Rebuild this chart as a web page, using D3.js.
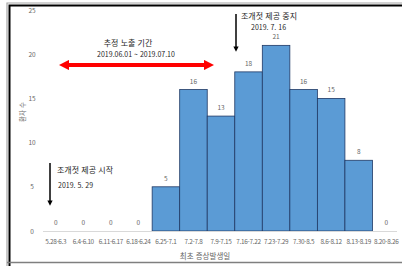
<!DOCTYPE html>
<html lang="ko">
<head>
<meta charset="UTF-8" />
<script src="https://d3js.org/d3.v7.min.js"></script>
<style>
  body { margin: 0; background: #fff; }
  text { font-family: "Noto Sans CJK KR", "Noto Sans", sans-serif; }
  .tick-lbl { fill: #666; font-size: 6.5px; }
  .x-lbl { fill: #666; font-size: 6.4px; letter-spacing: -0.3px; }
  .note { fill: #262626; font-size: 8px; }
</style>
</head>
<body>
<svg width="402" height="266"></svg>
<script>
  // 주별 환자 수
  const weeks = ["5.28-6.3", "6.4-6.10", "6.11-6.17", "6.18-6.24", "6.25-7.1", "7.2-7.8",
    "7.9-7.15", "7.16-7.22", "7.23-7.29", "7.30-8.5", "8.6-8.12", "8.13-8.19", "8.20-8.26"];
  const patients = [0, 0, 0, 0, 5, 16, 13, 18, 21, 16, 15, 8, 0];
  const yTicks = [0, 5, 10, 15, 20, 25];

  const svg = d3.select("svg");

  // 테두리
  svg.append("path").attr("d", "M7,266 V3 H402").attr("fill", "none")
    .attr("stroke", "#a6a6a6").attr("stroke-width", 1.2);
  svg.append("path").attr("d", "M9.5,266 V5.5 H402").attr("fill", "none")
    .attr("stroke", "#000").attr("stroke-width", 2);
  svg.append("line").attr("x1", 7).attr("x2", 402).attr("y1", 262.5).attr("y2", 262.5)
    .attr("stroke", "#7f7f7f").attr("stroke-width", 1.5);

  const x = d3.scaleBand().domain(weeks).range([42, 400]).padding(0);
  const y = d3.scaleLinear().domain([0, 25]).range([231, 10]);

  // y 축 (눈금 텍스트만)
  svg.append("g").attr("transform", "translate(36,0)")
    .call(d3.axisLeft(y).tickValues(yTicks).tickSize(0))
    .call(g => g.select(".domain").remove())
    .selectAll("text").attr("class", "tick-lbl").attr("x", 0).attr("text-anchor", "middle")
    .attr("dx", -4);

  svg.append("text").attr("class", "tick-lbl")
    .attr("transform", "translate(23,112) rotate(-90)")
    .attr("text-anchor", "middle").attr("dy", "0.35em").text("환자 수");

  // 막대
  svg.append("g").selectAll("rect").data(weeks).join("rect")
    .attr("x", d => x(d))
    .attr("y", (d, i) => y(patients[i]))
    .attr("width", x.bandwidth())
    .attr("height", (d, i) => y(0) - y(patients[i]))
    .attr("fill", "#5b9bd5")
    .attr("stroke", "#1f3864")
    .attr("stroke-width", 0.8);

  // x 축
  svg.append("g").attr("transform", `translate(0,${y(0)})`)
    .call(d3.axisBottom(x).tickSize(0).tickPadding(8))
    .call(g => g.select(".domain").attr("stroke", "#d9d9d9").attr("d", "M43,0.5H397"))
    .selectAll("text").attr("class", "x-lbl");

  svg.append("text").attr("class", "tick-lbl").attr("x", 205).attr("y", 259)
    .attr("text-anchor", "middle").style("font-size", "7.5px").text("최초 증상발생일");

  // 값 레이블
  svg.append("g").selectAll("text").data(weeks).join("text")
    .attr("class", "tick-lbl")
    .attr("x", d => x(d) + x.bandwidth() / 2)
    .attr("y", (d, i) => y(patients[i]) - 6)
    .attr("text-anchor", "middle")
    .text((d, i) => patients[i]);

  // 화살표 마커
  const defs = svg.append("defs");
  defs.append("marker").attr("id", "ah-red").attr("viewBox", "0 0 10 10")
    .attr("refX", 5).attr("refY", 5).attr("markerWidth", 2.6).attr("markerHeight", 2.6)
    .attr("orient", "auto-start-reverse")
    .append("path").attr("d", "M0,0 L10,5 L0,10 Z").attr("fill", "#ff0000");
  defs.append("marker").attr("id", "ah-blk").attr("viewBox", "0 0 10 10")
    .attr("refX", 3).attr("refY", 5).attr("markerWidth", 3.5).attr("markerHeight", 3.5)
    .attr("orient", "auto")
    .append("path").attr("d", "M0,0 L10,5 L0,10 Z").attr("fill", "#000");

  // 추정 노출 기간
  svg.append("line").attr("x1", 64).attr("x2", 209).attr("y1", 65).attr("y2", 65)
    .attr("stroke", "#ff0000").attr("stroke-width", 4)
    .attr("marker-start", "url(#ah-red)").attr("marker-end", "url(#ah-red)");
  svg.append("text").attr("class", "note").attr("x", 128).attr("y", 46)
    .attr("text-anchor", "middle").text("추정 노출 기간");
  svg.append("text").attr("class", "note").attr("x", 136).attr("y", 57)
    .attr("text-anchor", "middle").style("font-size", "7px").text("2019.06.01 ~ 2019.07.10");

  // 조개젓 제공 중지
  svg.append("line").attr("x1", 236).attr("x2", 236).attr("y1", 14).attr("y2", 48)
    .attr("stroke", "#000").attr("stroke-width", 1.5).attr("marker-end", "url(#ah-blk)");
  svg.append("text").attr("class", "note").attr("x", 241).attr("y", 19).text("조개젓 제공 중지");
  svg.append("text").attr("class", "note").attr("x", 251).attr("y", 30)
    .style("font-size", "7px").text("2019. 7. 16");

  // 조개젓 제공 시작
  svg.append("line").attr("x1", 50).attr("x2", 50).attr("y1", 163).attr("y2", 202)
    .attr("stroke", "#000").attr("stroke-width", 1.5).attr("marker-end", "url(#ah-blk)");
  svg.append("text").attr("class", "note").attr("x", 57).attr("y", 173).text("조개젓 제공 시작");
  svg.append("text").attr("class", "note").attr("x", 58).attr("y", 188)
    .style("font-size", "7px").text("2019. 5. 29");
</script>
</body>
</html>
